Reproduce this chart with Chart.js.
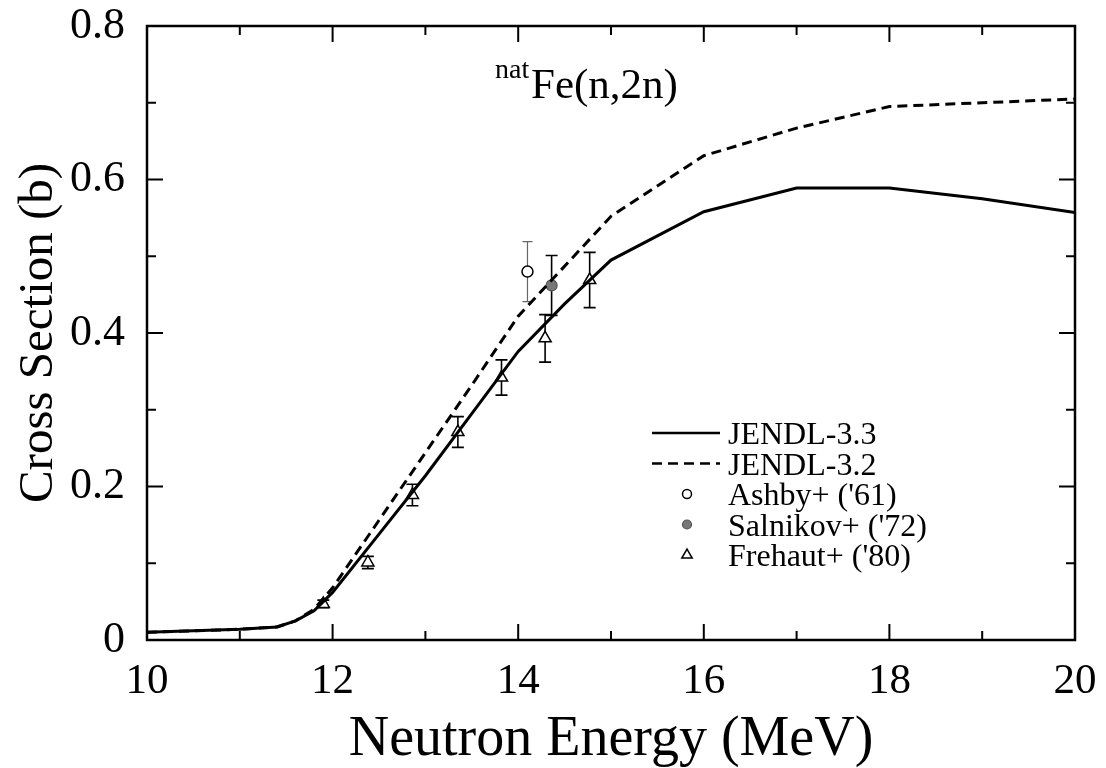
<!DOCTYPE html>
<html>
<head>
<meta charset="utf-8">
<script src="https://cdn.jsdelivr.net/npm/chart.js@4.4.1/dist/chart.umd.min.js"></script>
<style>
  html, body { margin: 0; padding: 0; background: #fff; }
  #wrap { width: 1106px; height: 768px; }
</style>
</head>
<body>
<div id="wrap"><canvas id="chart"></canvas></div>
<script>
// ---- values ----
const e33 = [10, 11, 11.4, 11.6, 11.8, 12, 12.5, 13, 13.5, 14, 14.5, 15, 16, 17, 18, 19, 20];
const jendl33 = [0.010, 0.014, 0.017, 0.025, 0.038, 0.062, 0.138, 0.214, 0.295, 0.376, 0.438, 0.495, 0.558, 0.589, 0.589, 0.575, 0.557];

const e32 = [10, 11, 11.4, 11.6, 11.8, 12, 12.5, 13, 13.5, 14, 15, 16, 17, 18, 19, 20];
const jendl32 = [0.010, 0.014, 0.017, 0.025, 0.040, 0.068, 0.156, 0.244, 0.332, 0.422, 0.552, 0.631, 0.667, 0.695, 0.700, 0.705];

const ashbyE = [14.1];
const ashbyXS = [0.480];
const ashbyErr = [0.039];

const salnikovE = [14.36];
const salnikovXS = [0.462];
const salnikovErr = [0.039];

const frehautE = [11.9, 12.38, 12.86, 13.35, 13.82, 14.29, 14.77];
const frehautXS = [0.047, 0.101, 0.189, 0.271, 0.342, 0.393, 0.469];
const frehautErr = [0.005, 0.008, 0.014, 0.020, 0.023, 0.031, 0.036];

const xTicks = [10, 12, 14, 16, 18, 20];
const xMinor = [11, 13, 15, 17, 19];
const yTicks = [0, 0.2, 0.4, 0.6, 0.8];
const yMinor = [0.1, 0.3, 0.5, 0.7];

const serif = "'Liberation Serif', 'Times New Roman', serif";

const pts = (xs, ys) => xs.map((x, i) => ({ x: x, y: ys[i] }));

// error bars, drawn under the markers
const errorBars = {
    id: 'errorBars',
    beforeDatasetsDraw(chart) {
        const ctx = chart.ctx;
        const xs = chart.scales.x, ys = chart.scales.y;
        chart.data.datasets.forEach(ds => {
            if (!ds.err) return;
            ctx.save();
            ctx.strokeStyle = ds.errColor || '#000';
            ctx.lineWidth = ds.errWidth || 1.6;
            ds.data.forEach((p, i) => {
                const px = xs.getPixelForValue(p.x);
                const y1 = ys.getPixelForValue(p.y + ds.err[i]);
                const y2 = ys.getPixelForValue(p.y - ds.err[i]);
                const cap = ds.capW || 6;
                ctx.beginPath();
                ctx.moveTo(px, y1); ctx.lineTo(px, y2);
                ctx.moveTo(px - cap, y1); ctx.lineTo(px + cap, y1);
                ctx.moveTo(px - cap, y2); ctx.lineTo(px + cap, y2);
                ctx.stroke();
            });
            ctx.restore();
        });
    }
};

// closed frame with inward ticks on all four sides, plus legend and reaction label
const decor = {
    id: 'decor',
    afterDraw(chart) {
        const ctx = chart.ctx;
        const a = chart.chartArea;
        const xs = chart.scales.x, ys = chart.scales.y;
        ctx.save();
        ctx.strokeStyle = '#000';
        ctx.lineWidth = 2.5;
        ctx.strokeRect(a.left, a.top, a.right - a.left, a.bottom - a.top);

        ctx.lineWidth = 2;
        ctx.beginPath();
        const xt = (v, len) => {
            const px = xs.getPixelForValue(v);
            ctx.moveTo(px, a.bottom); ctx.lineTo(px, a.bottom - len);
            ctx.moveTo(px, a.top); ctx.lineTo(px, a.top + len);
        };
        const yt = (v, len) => {
            const py = ys.getPixelForValue(v);
            ctx.moveTo(a.left, py); ctx.lineTo(a.left + len, py);
            ctx.moveTo(a.right, py); ctx.lineTo(a.right - len, py);
        };
        xTicks.forEach(v => xt(v, 16));
        xMinor.forEach(v => xt(v, 9));
        yTicks.forEach(v => yt(v, 16));
        yMinor.forEach(v => yt(v, 9));
        ctx.stroke();

        // reaction label
        ctx.fillStyle = '#000';
        ctx.textBaseline = 'alphabetic';
        ctx.textAlign = 'left';
        ctx.font = '28px ' + serif;
        ctx.fillText('nat', 495, 78);
        ctx.font = '43px ' + serif;
        ctx.fillText('Fe(n,2n)', 531, 98);

        // legend
        const lx0 = 652, lx1 = 720, mx = 687, tx = 728;
        let base = 444;
        ctx.font = '32px ' + serif;
        chart.data.datasets.forEach(ds => {
            const my = base - 11;
            ctx.save();
            if (ds.showLine) {
                ctx.strokeStyle = '#000';
                ctx.lineWidth = 2.5;
                ctx.setLineDash(ds.borderDash || []);
                ctx.beginPath();
                ctx.moveTo(lx0, my); ctx.lineTo(lx1, my);
                ctx.stroke();
            } else {
                ctx.fillStyle = ds.pointBackgroundColor;
                ctx.strokeStyle = ds.pointBorderColor;
                ctx.lineWidth = ds.borderWidth;
                ctx.beginPath();
                if (ds.pointStyle === 'circle') {
                    ctx.arc(mx, my, ds.legendRadius, 0, Math.PI * 2);
                } else {
                    const r = ds.legendRadius;
                    ctx.moveTo(mx, my - r);
                    ctx.lineTo(mx + r * 0.866, my + r * 0.5);
                    ctx.lineTo(mx - r * 0.866, my + r * 0.5);
                    ctx.closePath();
                }
                ctx.fill();
                ctx.stroke();
            }
            ctx.restore();
            ctx.fillStyle = '#000';
            ctx.fillText(ds.label, tx, base);
            base += 30.5;
        });
        ctx.restore();
    }
};

new Chart(document.getElementById('chart'), {
    type: 'scatter',
    data: {
        datasets: [
            {
                label: 'JENDL-3.3',
                data: pts(e33, jendl33),
                showLine: true,
                borderColor: '#000',
                borderWidth: 3,
                pointRadius: 0,
                tension: 0
            },
            {
                label: 'JENDL-3.2',
                data: pts(e32, jendl32),
                showLine: true,
                borderColor: '#000',
                borderWidth: 3,
                borderDash: [10, 6],
                pointRadius: 0,
                tension: 0
            },
            {
                label: "Ashby+ ('61)",
                data: pts(ashbyE, ashbyXS),
                err: ashbyErr,
                errColor: '#666',
                errWidth: 1.2,
                capW: 5,
                showLine: false,
                pointStyle: 'circle',
                pointRadius: 5.5,
                legendRadius: 4.5,
                borderWidth: 1.5,
                pointBackgroundColor: '#fff',
                pointBorderColor: '#000'
            },
            {
                label: "Salnikov+ ('72)",
                data: pts(salnikovE, salnikovXS),
                err: salnikovErr,
                errWidth: 1.6,
                capW: 6,
                showLine: false,
                pointStyle: 'circle',
                pointRadius: 5.5,
                legendRadius: 4.5,
                borderWidth: 1.2,
                pointBackgroundColor: '#777',
                pointBorderColor: '#555'
            },
            {
                label: "Frehaut+ ('80)",
                data: pts(frehautE, frehautXS),
                err: frehautErr,
                errWidth: 1.6,
                capW: 6,
                showLine: false,
                pointStyle: 'triangle',
                pointRadius: 7,
                legendRadius: 6,
                borderWidth: 1.5,
                pointBackgroundColor: '#fff',
                pointBorderColor: '#000'
            }
        ]
    },
    options: {
        responsive: true,
        maintainAspectRatio: false,
        animation: false,
        events: [],
        layout: { padding: { top: 26, right: 31, left: 0, bottom: 0 } },
        plugins: {
            legend: { display: false },
            tooltip: { enabled: false }
        },
        scales: {
            x: {
                type: 'linear',
                min: 10,
                max: 20,
                afterBuildTicks: s => { s.ticks = xTicks.map(v => ({ value: v })); },
                afterFit: s => { s.height = 128; s.paddingLeft = 0; s.paddingRight = 0; },
                grid: { display: false },
                border: { display: false },
                ticks: { color: '#000', font: { family: serif, size: 43 }, padding: 8, maxRotation: 0 },
                title: {
                    display: true,
                    text: 'Neutron Energy (MeV)',
                    color: '#000',
                    font: { family: serif, size: 56 },
                    padding: { top: 0, bottom: -6 }
                }
            },
            y: {
                type: 'linear',
                min: 0,
                max: 0.8,
                afterBuildTicks: s => { s.ticks = yTicks.map(v => ({ value: v })); },
                afterFit: s => { s.width = 147; s.paddingTop = 0; s.paddingBottom = 0; },
                grid: { display: false },
                border: { display: false },
                ticks: { color: '#000', font: { family: serif, size: 44 }, padding: 14 },
                title: {
                    display: true,
                    text: 'Cross Section (b)',
                    color: '#000',
                    font: { family: serif, size: 49 },
                    padding: { top: 10, bottom: 0 }
                }
            }
        }
    },
    plugins: [errorBars, decor]
});
</script>
</body>
</html>
